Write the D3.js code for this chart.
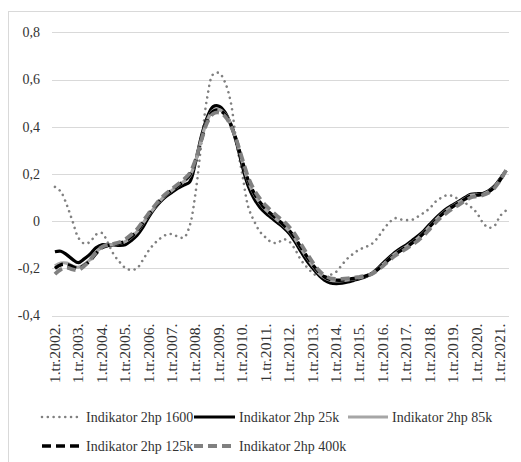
<!DOCTYPE html>
<html>
<head>
<meta charset="utf-8">
<script src="https://cdn.jsdelivr.net/npm/d3@7/dist/d3.min.js"></script>
<style>
  html, body { margin: 0; padding: 0; background: #fff; }
  svg { display: block; }
</style>
</head>
<body>
<svg id="chart" width="521" height="462"></svg>
<script>
// ---- data ----
const years = [2002,2003,2004,2005,2006,2007,2008,2009,2010,2011,2012,2013,2014,2015,2016,2017,2018,2019,2020,2021];
const quarters = ["1","2","3","4"];
const tickLabels = ["1.tr.2002.","1.tr.2003.","1.tr.2004.","1.tr.2005.","1.tr.2006.","1.tr.2007.","1.tr.2008.","1.tr.2009.","1.tr.2010.","1.tr.2011.","1.tr.2012.","1.tr.2013.","1.tr.2014.","1.tr.2015.","1.tr.2016.","1.tr.2017.","1.tr.2018.","1.tr.2019.","1.tr.2020.","1.tr.2021."];
const yTicks = [-0.4,-0.2,0,0.2,0.4,0.6,0.8];
const yTickLabels = ["-0,4","-0,2","0","0,2","0,4","0,6","0,8"];
const seriesNames = ["Indikator 2hp 1600","Indikator 2hp 25k","Indikator 2hp 85k","Indikator 2hp 125k","Indikator 2hp 400k"];

const s1600 = [0.145,0.125,0.07,0.0,-0.07,-0.095,-0.088,-0.057,-0.05,-0.09,-0.14,-0.172,-0.198,-0.207,-0.2,-0.165,-0.125,-0.095,-0.073,-0.058,-0.055,-0.066,-0.07,-0.02,0.12,0.33,0.525,0.622,0.628,0.59,0.505,0.33,0.195,0.06,0.0,-0.045,-0.07,-0.09,-0.092,-0.077,-0.087,-0.12,-0.165,-0.195,-0.22,-0.235,-0.235,-0.228,-0.215,-0.185,-0.157,-0.137,-0.12,-0.11,-0.098,-0.073,-0.038,-0.008,0.012,0.007,0.004,0.006,0.02,0.036,0.055,0.083,0.1,0.11,0.105,0.09,0.077,0.06,0.035,-0.005,-0.028,-0.02,0.022,0.045];
const s25k = [-0.13,-0.128,-0.142,-0.162,-0.176,-0.16,-0.14,-0.113,-0.1,-0.102,-0.101,-0.103,-0.1,-0.083,-0.061,-0.027,0.017,0.053,0.082,0.105,0.123,0.14,0.153,0.166,0.25,0.36,0.44,0.485,0.487,0.463,0.41,0.332,0.232,0.148,0.095,0.058,0.033,0.013,-0.007,-0.027,-0.052,-0.088,-0.13,-0.168,-0.2,-0.228,-0.25,-0.262,-0.265,-0.263,-0.258,-0.251,-0.244,-0.236,-0.223,-0.203,-0.178,-0.155,-0.133,-0.115,-0.1,-0.081,-0.062,-0.04,-0.013,0.013,0.036,0.055,0.07,0.085,0.1,0.114,0.116,0.117,0.128,0.148,0.18,0.215];
const s85k = [-0.19,-0.178,-0.178,-0.19,-0.196,-0.183,-0.163,-0.133,-0.11,-0.103,-0.098,-0.095,-0.087,-0.069,-0.045,-0.011,0.026,0.058,0.088,0.112,0.131,0.149,0.168,0.19,0.253,0.347,0.428,0.468,0.473,0.455,0.412,0.34,0.25,0.168,0.114,0.077,0.047,0.025,0.003,-0.018,-0.043,-0.076,-0.116,-0.154,-0.189,-0.219,-0.24,-0.25,-0.253,-0.252,-0.249,-0.245,-0.24,-0.234,-0.224,-0.206,-0.184,-0.161,-0.14,-0.123,-0.108,-0.09,-0.071,-0.048,-0.021,0.005,0.029,0.049,0.065,0.08,0.095,0.109,0.112,0.114,0.125,0.144,0.176,0.215];
const s125k = [-0.2,-0.185,-0.183,-0.193,-0.2,-0.188,-0.168,-0.138,-0.113,-0.104,-0.098,-0.094,-0.085,-0.066,-0.042,-0.008,0.028,0.06,0.09,0.113,0.132,0.15,0.17,0.195,0.255,0.345,0.425,0.465,0.47,0.452,0.41,0.34,0.252,0.172,0.118,0.08,0.05,0.028,0.006,-0.015,-0.04,-0.072,-0.112,-0.15,-0.185,-0.215,-0.236,-0.247,-0.25,-0.25,-0.247,-0.243,-0.239,-0.233,-0.224,-0.207,-0.185,-0.163,-0.142,-0.125,-0.11,-0.092,-0.073,-0.05,-0.023,0.003,0.027,0.047,0.063,0.078,0.093,0.107,0.11,0.113,0.124,0.143,0.175,0.215];
const s400k = [-0.225,-0.205,-0.197,-0.205,-0.207,-0.19,-0.165,-0.133,-0.11,-0.101,-0.096,-0.09,-0.077,-0.058,-0.035,-0.002,0.033,0.064,0.094,0.117,0.137,0.156,0.177,0.203,0.26,0.343,0.418,0.455,0.46,0.445,0.405,0.342,0.262,0.185,0.132,0.095,0.066,0.042,0.02,0.0,-0.025,-0.057,-0.097,-0.137,-0.175,-0.207,-0.23,-0.242,-0.245,-0.245,-0.243,-0.24,-0.236,-0.232,-0.225,-0.21,-0.19,-0.168,-0.148,-0.132,-0.117,-0.1,-0.082,-0.06,-0.033,-0.006,0.018,0.038,0.055,0.07,0.086,0.1,0.105,0.11,0.12,0.14,0.173,0.215];

// categories: quarters 1.tr.2002. .. 2.tr.2021.
const categories = [];
years.forEach(yr => quarters.forEach(q => categories.push(q + ".tr." + yr + ".")));
categories.splice(78);

// ---- layout & styles ----
const FONT = '"Liberation Serif"';
const TEXT_COLOR = "#333333";
const styles = [
  {color: "#808080", width: 2.6, dash: "0.01,5.8", cap: "round"},
  {color: "#000000", width: 3.2, dash: null, cap: "butt"},
  {color: "#a6a6a6", width: 3.2, dash: null, cap: "butt"},
  {color: "#000000", width: 3.4, dash: "9,5", cap: "butt"},
  {color: "#808080", width: 3.8, dash: "9,5", cap: "butt"}
];
const seriesData = [s1600, s25k, s85k, s125k, s400k];

const svg = d3.select("#chart");
const plotLeft = 52, plotRight = 509, plotTop = 32.3, plotBottom = 315.5;

// outer border
svg.append("rect").attr("x", 8.5).attr("y", 11.5).attr("width", 700).attr("height", 700)
  .attr("fill", "none").attr("stroke", "#d9d9d9").attr("stroke-width", 1);

const x = d3.scaleBand().domain(categories).range([plotLeft, plotRight]).paddingInner(0).paddingOuter(0);
const y = d3.scaleLinear().domain([-0.4, 0.8]).range([plotBottom, plotTop]);
const cx = c => x(c) + x.bandwidth() / 2;

// gridlines
svg.append("g").selectAll("line").data(yTicks).join("line")
  .attr("x1", plotLeft).attr("x2", plotRight)
  .attr("y1", d => Math.round(y(d)) + 0.5).attr("y2", d => Math.round(y(d)) + 0.5)
  .attr("stroke", "#d9d9d9").attr("stroke-width", 1);

// y axis labels
const yAxis = d3.axisLeft(y).tickValues(yTicks).tickSize(0).tickPadding(0)
  .tickFormat((d, i) => yTickLabels[i]);
const gy = svg.append("g").attr("transform", "translate(40,0)").call(yAxis);
gy.attr("font-family", null).attr("font-size", null);
gy.select(".domain").remove();
gy.selectAll("text").style("font-family", FONT).style("font-size", "14px").attr("fill", TEXT_COLOR).attr("x", 0);

// x axis labels (rotated, slightly stretched along the text direction)
const stretch = 1.12;
const tickCats = categories.filter((c, i) => i % 4 === 0);
const xAxis = d3.axisBottom(x).tickValues(tickCats).tickSize(0)
  .tickFormat((d, i) => tickLabels[i]);
const gx = svg.append("g").attr("transform", `translate(0,${plotBottom})`).call(xAxis);
gx.attr("font-family", null).attr("font-size", null);
gx.select(".domain").remove();
gx.selectAll("text")
  .style("font-family", FONT).style("font-size", "14px").attr("fill", TEXT_COLOR)
  .attr("transform", `rotate(-90) scale(${stretch},1)`)
  .attr("text-anchor", "end")
  .attr("x", -8 / stretch).attr("y", 0).attr("dy", "0.35em");

// lines
const line = d3.line()
  .x((d, i) => cx(categories[i]))
  .y(d => y(d))
  .curve(d3.curveCatmullRom.alpha(0.5));

seriesData.forEach((s, k) => {
  const st = styles[k];
  svg.append("path").datum(s)
    .attr("d", line)
    .attr("fill", "none")
    .attr("stroke", st.color)
    .attr("stroke-width", st.width)
    .attr("stroke-linecap", st.cap)
    .attr("stroke-linejoin", "round")
    .attr("stroke-dasharray", st.dash);
});

// legend
const legendPos = [
  {x1: 42, x2: 80, tx: 86, y: 417},
  {x1: 194, x2: 235, tx: 239, y: 417},
  {x1: 348, x2: 388, tx: 392, y: 417},
  {x1: 42, x2: 80, tx: 86, y: 446},
  {x1: 194, x2: 235, tx: 239, y: 446}
];
const lg = svg.append("g");
seriesNames.forEach((name, k) => {
  const p = legendPos[k], st = styles[k];
  lg.append("line").attr("x1", p.x1).attr("x2", p.x2).attr("y1", p.y).attr("y2", p.y)
    .attr("stroke", st.color).attr("stroke-width", st.width)
    .attr("stroke-linecap", st.cap).attr("stroke-dasharray", st.dash);
  lg.append("text").attr("x", p.tx).attr("y", p.y).attr("dy", "0.35em")
    .style("font-family", FONT).style("font-size", "14px").attr("fill", TEXT_COLOR).text(name);
});
</script>
</body>
</html>
